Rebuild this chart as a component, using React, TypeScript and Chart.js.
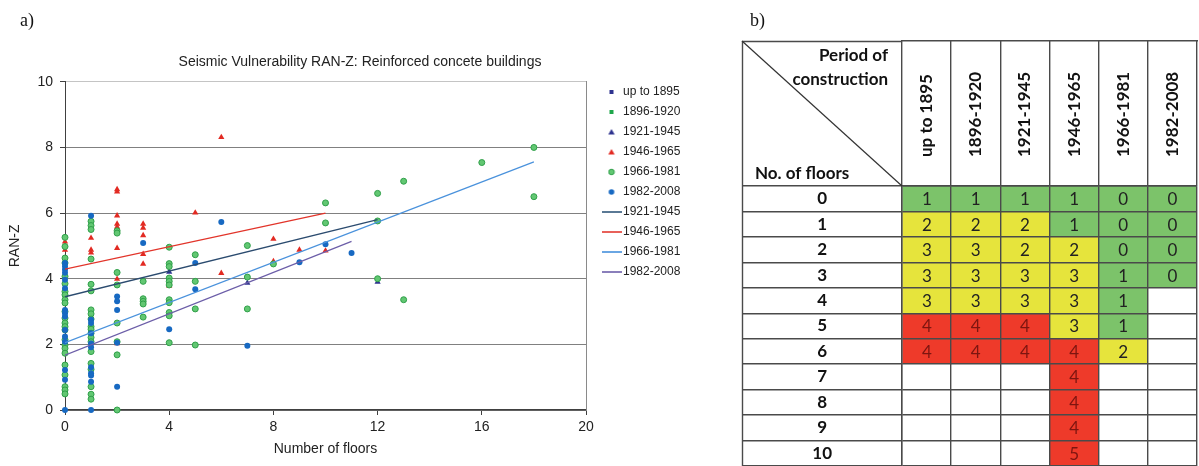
import React, { useEffect, useRef } from 'react';
import { Chart, registerables } from 'chart.js';

Chart.register(...registerables);

type Pt = [number, number];

// ================= panel a) scatter =================
const panelATitle = 'Seismic Vulnerability RAN-Z: Reinforced concete buildings';
const axisXTitle = 'Number of floors';
const axisYTitle = 'RAN-Z';

const seriesNames = ['up to 1895', '1896-1920', '1921-1945', '1946-1965', '1966-1981', '1982-2008'];
const trendNames = ['1921-1945', '1946-1965', '1966-1981', '1982-2008'];

const vulnUpTo1895: Pt[] = [[0, 3.61], [1, 2.54]];
const vuln1896_1920: Pt[] = [[0, 2.65], [1, 2.93], [2, 4.19]];
const vuln1921_1945: Pt[] = [[4, 4.21], [7, 3.87], [12, 3.9]];
const vuln1946_1965: Pt[] = [
  [0, 5.13], [0, 5.0], [0, 4.88],
  [1, 5.58], [1, 5.24], [1, 4.88], [1, 4.79],
  [2, 6.72], [2, 6.65], [2, 5.92], [2, 5.67], [2, 5.58], [2, 5.49], [2, 4.93], [2, 3.99], [2, 2.03],
  [3, 5.67], [3, 5.55], [3, 5.32], [3, 4.75], [3, 4.45],
  [4, 3.78], [4, 3.9],
  [5, 6.01],
  [6, 8.31], [6, 4.17],
  [8, 5.21], [8, 4.53],
  [9, 4.88], [10, 4.85],
];
const vuln1966_1981: Pt[] = [
  [0, 5.26], [0, 4.98], [0, 4.63], [0, 4.48], [0, 4.07], [0, 3.85], [0, 3.61], [0, 3.51], [0, 3.36], [0, 3.26],
  [0, 3.0], [0, 2.8], [0, 2.65], [0, 2.54], [0, 2.44], [0, 2.14], [0, 1.98], [0, 1.88], [0, 1.73], [0, 1.37],
  [0, 1.07], [0, 0.71], [0, 0.61], [0, 0.49],
  [1, 5.75], [1, 5.62], [1, 5.5], [1, 4.6], [1, 3.83], [1, 3.63], [1, 3.05], [1, 2.93], [1, 2.77], [1, 2.54],
  [1, 2.46], [1, 2.34], [1, 2.21], [1, 2.08], [1, 1.78], [1, 1.42], [1, 1.24], [1, 0.71], [1, 0.48], [1, 0.33],
  [2, 5.46], [2, 5.39], [2, 4.19], [2, 3.81], [2, 2.65], [2, 2.08], [2, 1.68], [2, 0],
  [3, 3.92], [3, 3.39], [3, 3.31], [3, 3.23], [3, 2.83],
  [4, 4.96], [4, 4.46], [4, 4.37], [4, 4.02], [4, 3.92], [4, 3.81], [4, 3.36], [4, 3.27], [4, 2.97], [4, 2.87], [4, 2.05],
  [5, 4.73], [5, 3.92], [5, 3.08], [5, 1.98],
  [7, 5.01], [7, 4.05], [7, 3.08],
  [8, 4.45],
  [10, 6.31], [10, 5.7],
  [12, 6.6], [12, 5.76], [12, 4.0],
  [13, 6.97], [13, 3.36],
  [16, 7.54],
  [18, 8.0], [18, 6.5],
];
const vuln1982_2008: Pt[] = [
  [0, 4.48], [0, 4.38], [0, 4.28], [0, 4.18], [0, 3.97], [0, 3.71], [0, 3.05], [0, 2.95], [0, 2.85], [0, 2.44],
  [0, 2.24], [0, 2.08], [0, 1.22], [0, 0.92], [0, 0],
  [1, 5.92], [1, 2.75], [1, 2.65], [1, 2.34], [1, 2.03], [1, 1.91], [1, 1.3], [1, 1.12], [1, 1.05], [1, 0.86], [1, 0],
  [2, 3.46], [2, 3.31], [2, 3.05], [2, 2.05], [2, 0.71],
  [3, 5.09],
  [4, 2.46],
  [5, 4.48], [5, 3.68],
  [6, 5.73],
  [7, 1.96],
  [9, 4.5],
  [10, 5.05],
  [11, 4.78],
];

const trend1921_1945: Pt[] = [[0, 3.45], [12, 5.8]];
const trend1946_1965: Pt[] = [[0, 4.29], [10, 6.0]];
const trend1966_1981: Pt[] = [[0, 2.05], [18, 7.56]];
const trend1982_2008: Pt[] = [[0, 1.67], [11, 5.14]];

// ================= panel b) table =================
const periods = ['up to 1895', '1896-1920', '1921-1945', '1946-1965', '1966-1981', '1982-2008'];
const floors = ['0', '1', '2', '3', '4', '5', '6', '7', '8', '9', '10'];
const classUpTo1895 = [1, 2, 3, 3, 3, 4, 4, null, null, null, null];
const class1896_1920 = [1, 2, 3, 3, 3, 4, 4, null, null, null, null];
const class1921_1945 = [1, 2, 2, 3, 3, 4, 4, null, null, null, null];
const class1946_1965 = [1, 1, 2, 3, 3, 3, 4, 4, 4, 4, 5];
const class1966_1981 = [0, 0, 0, 1, 1, 1, 2, null, null, null, null];
const class1982_2008 = [0, 0, 0, 0, null, null, null, null, null, null, null];
const cornerTop = ['Period of', 'construction'];
const cornerBottom = 'No. of floors';

const classCols = [classUpTo1895, class1896_1920, class1921_1945, class1946_1965, class1966_1981, class1982_2008];

// ================= styles =================
const SANS = "'Liberation Sans', Arial, sans-serif";
const TFONT = "Lato, 'Open Sans', sans-serif";
const NAVY = '#2e338f';
const GREEN_SQ = '#1ea64b';
const RED = '#e22a22';
const GREEN_FILL = '#62c772';
const GREEN_EDGE = '#2f9f49';
const BLUE = '#1769c2';
const TREND_COLORS = ['#2b4b6f', '#e2342a', '#4a92dc', '#6c5ea8'];
const LEGEND_TREND_COLORS = ['#5a7995', '#e8615a', '#6aa6e3', '#8a7fbb'];
const TABLE_LINE = '#4a4a4a';

const cellColor = (s: number | null) =>
  s === null ? '#ffffff' : s <= 1 ? '#7cc36a' : s <= 3 ? '#e6e43c' : '#ee3a2a';
const cellText = (s: number | null) => (s !== null && s >= 4 ? '#7d1510' : '#222222');

function makeIcon(kind: string, fill: string, stroke?: string): HTMLCanvasElement {
  const c = document.createElement('canvas');
  if (kind === 'line') {
    c.width = 20;
    c.height = 2;
    const g = c.getContext('2d')!;
    g.fillStyle = fill;
    g.fillRect(0, 0, 20, 2);
    return c;
  }
  c.width = 8;
  c.height = 8;
  const g = c.getContext('2d')!;
  g.fillStyle = fill;
  if (kind === 'rect') {
    g.fillRect(2, 2, 4, 4);
  } else if (kind === 'triangle') {
    g.beginPath();
    g.moveTo(4, 1);
    g.lineTo(7.2, 6.6);
    g.lineTo(0.8, 6.6);
    g.closePath();
    g.fill();
  } else {
    g.beginPath();
    g.arc(4, 4, 2.8, 0, Math.PI * 2);
    g.fill();
    if (stroke) {
      g.strokeStyle = stroke;
      g.lineWidth = 1;
      g.stroke();
    }
  }
  return c;
}

const toXY = (arr: Pt[]) => arr.map(([x, y]) => ({ x, y }));

function scatterConfig(): any {
  const icons = [
    makeIcon('rect', NAVY),
    makeIcon('rect', GREEN_SQ),
    makeIcon('triangle', NAVY),
    makeIcon('triangle', RED),
    makeIcon('circle', GREEN_FILL, GREEN_EDGE),
    makeIcon('circle', BLUE),
    ...LEGEND_TREND_COLORS.map((c) => makeIcon('line', c)),
  ];
  const legendTexts = [...seriesNames, ...trendNames];

  const pointSets: any[] = [
    { data: vulnUpTo1895, style: 'rect', r: 2.6, bg: NAVY, bc: NAVY, bw: 0 },
    { data: vuln1896_1920, style: 'rect', r: 2.6, bg: GREEN_SQ, bc: GREEN_SQ, bw: 0 },
    { data: vuln1921_1945, style: 'triangle', r: 3.6, bg: NAVY, bc: NAVY, bw: 0 },
    { data: vuln1946_1965, style: 'triangle', r: 3.6, bg: RED, bc: RED, bw: 0 },
    { data: vuln1966_1981, style: 'circle', r: 3, bg: GREEN_FILL, bc: GREEN_EDGE, bw: 1 },
    { data: vuln1982_2008, style: 'circle', r: 3, bg: BLUE, bc: BLUE, bw: 0 },
  ];
  const trends = [trend1921_1945, trend1946_1965, trend1966_1981, trend1982_2008];

  const datasets: any[] = [
    ...pointSets.map((p, i) => ({
      label: seriesNames[i],
      data: toXY(p.data),
      pointStyle: p.style,
      pointRadius: p.r,
      backgroundColor: p.bg,
      borderColor: p.bc,
      borderWidth: p.bw,
      showLine: false,
      clip: false,
      order: 20 - i,
    })),
    ...trends.map((t, i) => ({
      label: trendNames[i],
      data: toXY(t),
      showLine: true,
      pointRadius: 0,
      borderColor: TREND_COLORS[i],
      backgroundColor: TREND_COLORS[i],
      borderWidth: 1.3,
      order: 5 - i,
    })),
  ];

  return {
    type: 'scatter',
    data: { datasets },
    options: {
      responsive: false,
      animation: false,
      events: [],
      layout: { padding: 0 },
      plugins: {
        tooltip: { enabled: false },
        title: {
          display: true,
          text: panelATitle,
          color: '#222',
          font: { family: SANS, size: 14, weight: 'normal' },
          padding: { top: 54, bottom: 11 },
        },
        legend: {
          display: true,
          position: 'right',
          align: 'start',
          title: { display: true, text: '', font: { size: 10 }, padding: { top: 66, bottom: 0 } },
          labels: {
            usePointStyle: true,
            pointStyleWidth: 11,
            padding: 8,
            color: '#222',
            font: { family: SANS, size: 12 },
            generateLabels: () =>
              legendTexts.map((t, i) => ({
                text: t,
                pointStyle: icons[i],
                fillStyle: 'rgba(0,0,0,0)',
                strokeStyle: 'rgba(0,0,0,0)',
                lineWidth: 0,
                hidden: false,
                datasetIndex: i,
                fontColor: '#222',
              })),
          },
        },
      },
      scales: {
        x: {
          type: 'linear',
          position: 'bottom',
          min: 0,
          max: 20,
          afterFit: (s: any) => { s.height = 56; },
          ticks: { stepSize: 4, color: '#222', padding: 4, font: { family: SANS, size: 14 } },
          grid: { drawOnChartArea: false, tickLength: 5, color: '#404040', tickColor: '#404040' },
          border: { color: '#404040', width: 1.5 },
          title: {
            display: true,
            text: axisXTitle,
            color: '#222',
            font: { family: SANS, size: 14 },
            padding: { top: 0, bottom: 8 },
          },
        },
        y: {
          type: 'linear',
          position: 'left',
          min: 0,
          max: 10,
          afterFit: (s: any) => { s.width = 65; },
          ticks: { stepSize: 2, color: '#222', padding: 7, font: { family: SANS, size: 14 } },
          grid: {
            color: (ctx: any) => (ctx.tick && ctx.tick.value === 10 ? '#c4c4c4' : '#808080'),
            tickColor: '#404040',
            tickLength: 5,
            lineWidth: 1,
          },
          border: { color: '#404040', width: 1 },
          title: {
            display: true,
            text: axisYTitle,
            color: '#222',
            font: { family: SANS, size: 14 },
            padding: { top: 7, bottom: 0 },
          },
        },
        yRight: {
          type: 'linear',
          position: 'right',
          min: 0,
          max: 10,
          display: true,
          afterFit: (s: any) => { s.width = 12; },
          grid: { display: false },
          ticks: { display: false },
          border: { display: true, color: '#8a8a8a', width: 1 },
        },
        yPad: {
          type: 'linear',
          position: 'right',
          weight: 2000,
          display: true,
          afterFit: (s: any) => { s.width = 32; },
          grid: { display: false },
          ticks: { display: false },
          border: { display: false },
        },
      },
    },
  };
}

function tableConfig(): any {
  const colEdges = [0, 1, 2, 3, 4, 5, 6];

  const cellLabels = {
    id: 'cellLabels',
    afterDatasetsDraw(chart: any) {
      const ctx = chart.ctx;
      ctx.save();
      ctx.font = `17px ${TFONT}`;
      ctx.textAlign = 'center';
      ctx.textBaseline = 'middle';
      chart.data.datasets.forEach((_ds: any, di: number) => {
        const meta = chart.getDatasetMeta(di);
        meta.data.forEach((el: any, ri: number) => {
          const s = classCols[di][ri];
          if (s === null) return;
          const p = el.getProps(['x', 'y', 'base'], true);
          ctx.fillStyle = cellText(s);
          ctx.fillText(String(s), (p.x + p.base) / 2, p.y + 1);
        });
      });
      ctx.restore();
    },
  };

  const header = {
    id: 'tableHeader',
    afterDraw(chart: any) {
      const { ctx, chartArea, scales } = chart;
      const left = scales.y.left;
      const x0 = chartArea.left;
      const top = scales.xTop.bottom;
      const bottom = chartArea.top;
      ctx.save();
      ctx.strokeStyle = TABLE_LINE;
      ctx.lineWidth = 1.4;
      ctx.beginPath();
      ctx.moveTo(left + 0.5, top);
      ctx.lineTo(left + 0.5, chartArea.bottom);
      ctx.moveTo(left, top + 0.5);
      ctx.lineTo(x0, top + 0.5);
      ctx.stroke();
      ctx.strokeStyle = '#333';
      ctx.lineWidth = 1.2;
      ctx.beginPath();
      ctx.moveTo(left, top);
      ctx.lineTo(x0, bottom);
      ctx.stroke();
      ctx.fillStyle = '#111';
      ctx.font = `bold 17px ${TFONT}`;
      ctx.textBaseline = 'middle';
      ctx.textAlign = 'right';
      ctx.fillText(cornerTop[0], x0 - 14, top + 15);
      ctx.fillText(cornerTop[1], x0 - 14, top + 39);
      ctx.textAlign = 'left';
      ctx.fillText(cornerBottom, left + 13, bottom - 12);
      ctx.restore();
    },
  };

  return {
    type: 'bar',
    data: {
      labels: floors,
      datasets: periods.map((p, i) => ({
        label: p,
        data: classCols[i].map(() => 1), // each cell spans one period column
        backgroundColor: classCols[i].map(cellColor),
        borderWidth: 0,
        barPercentage: 1,
        categoryPercentage: 1,
      })),
    },
    plugins: [cellLabels, header],
    options: {
      indexAxis: 'y',
      responsive: false,
      animation: false,
      events: [],
      layout: { padding: { left: 7, right: 2, top: 0, bottom: 0 } },
      plugins: { legend: { display: false }, tooltip: { enabled: false }, title: { display: false } },
      scales: {
        x: {
          type: 'linear',
          position: 'top',
          stacked: true,
          min: colEdges[0],
          max: colEdges[colEdges.length - 1],
          afterBuildTicks: (s: any) => { s.ticks = colEdges.map((v) => ({ value: v })); },
          afterFit: (s: any) => { s.height = 145; },
          grid: { color: TABLE_LINE, tickColor: TABLE_LINE, lineWidth: 1.4, tickWidth: 1.4, tickLength: 145, z: 1 },
          border: { display: true, color: TABLE_LINE, width: 1.4, z: 1 },
          ticks: {
            autoSkip: false,
            minRotation: 90,
            maxRotation: 90,
            labelOffset: 45,
            padding: -116,
            color: '#111',
            font: { family: TFONT, size: 17, weight: 'bold' },
            callback: (v: any) => (periods[v] !== undefined ? periods[v] : ''),
          },
        },
        xTop: {
          type: 'linear',
          position: 'top',
          weight: 10,
          display: true,
          afterFit: (s: any) => { s.height = 41; },
          grid: { display: false },
          ticks: { display: false },
          border: { display: true, color: TABLE_LINE, width: 1.4 },
        },
        y: {
          type: 'category',
          position: 'left',
          stacked: true,
          afterFit: (s: any) => { s.width = 160; },
          grid: {
            color: TABLE_LINE,
            tickColor: TABLE_LINE,
            lineWidth: 1.4,
            tickWidth: 1.4,
            drawTicks: true,
            tickLength: 160,
            offset: true,
            z: 1,
          },
          border: { display: true, color: TABLE_LINE, width: 1.4, z: 1 },
          ticks: {
            autoSkip: false,
            crossAlign: 'center',
            padding: -90,
            color: '#111',
            font: { family: TFONT, size: 17, weight: 'bold' },
          },
        },
      },
    },
  };
}

export default function App() {
  const aRef = useRef<HTMLCanvasElement>(null);
  const bRef = useRef<HTMLCanvasElement>(null);

  useEffect(() => {
    const c1 = new Chart(aRef.current as HTMLCanvasElement, scatterConfig());
    const c2 = new Chart(bRef.current as HTMLCanvasElement, tableConfig());
    return () => {
      c1.destroy();
      c2.destroy();
    };
  }, []);

  const panelLabel: React.CSSProperties = {
    position: 'absolute',
    top: 9,
    fontFamily: "'Liberation Serif', 'Times New Roman', serif",
    fontSize: 18,
    lineHeight: '22px',
    color: '#111',
  };

  return (
    <div style={{ position: 'absolute', left: 0, top: 0, width: 1199, height: 466, background: '#fff', overflow: 'hidden' }}>
      <canvas ref={aRef} width={720} height={466} style={{ position: 'absolute', left: 0, top: 0 }} />
      <canvas ref={bRef} width={464} height={466} style={{ position: 'absolute', left: 735, top: 0 }} />
      <div style={{ ...panelLabel, left: 20 }}>a)</div>
      <div style={{ ...panelLabel, left: 750 }}>b)</div>
    </div>
  );
}
